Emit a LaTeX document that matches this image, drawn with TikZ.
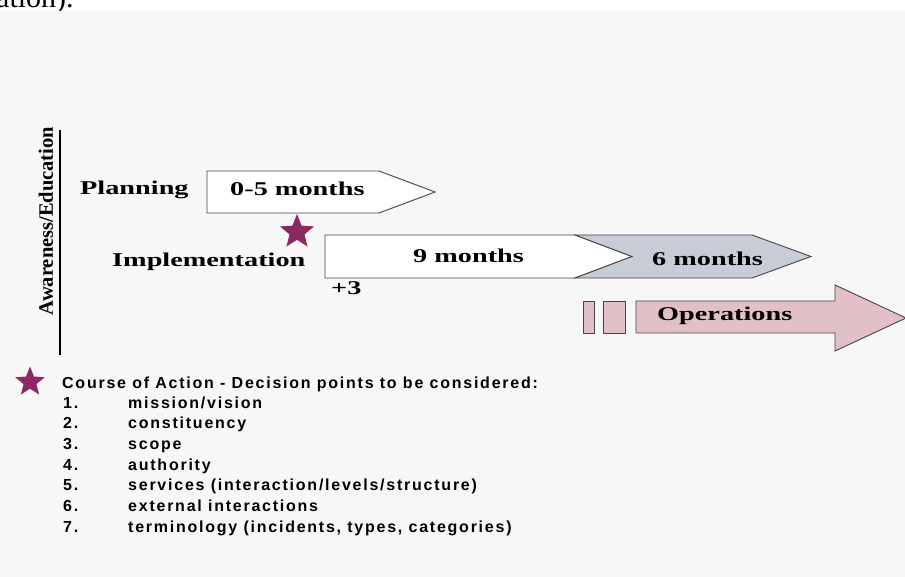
\documentclass[tikz,border=0pt]{standalone}
\usepackage{fontspec}
\setmainfont{Liberation Serif}
\setsansfont{Liberation Sans}
\newfontfamily\phasefont[FakeStretch=1.45]{Liberation Serif}
\newfontfamily\notefont[LetterSpace=11]{Liberation Sans}
\usepackage{tikz}
\usetikzlibrary{positioning, shapes.geometric}
\definecolor{paper}{RGB}{247,247,247}
\definecolor{starpurple}{RGB}{140,40,100}
\definecolor{chevgrey}{RGB}{200,204,214}
\definecolor{opspink}{RGB}{226,192,200}
\definecolor{edgegrey}{RGB}{70,70,70}

\begin{document}
\begin{tikzpicture}[
  x=1pt, y=-1pt,
  phase/.style={font=\phasefont\bfseries\fontsize{19.5}{20}\selectfont, inner sep=0pt, anchor=base west},
  bar/.style={draw=edgegrey, line width=0.9pt, line join=miter},
  note/.style={font=\notefont\bfseries\fontsize{16}{17}\selectfont, inner sep=0pt, anchor=base west},
  decision/.style={star, star points=5, star point ratio=2.3, fill=starpurple, draw=none, inner sep=0pt}
]
  \useasboundingbox (0,0) rectangle (905,577);
  \fill[white] (0,0) rectangle (905,11);
  \fill[paper] (0,11) rectangle (905,577);
  % left over from the page above
  \begin{scope}
    \clip (0,0) rectangle (905,11);
    \node[font=\fontsize{30}{30}\selectfont, inner sep=0pt, anchor=base west] (prev) at (-4,8) {ation).};
  \end{scope}

  % axis
  \node[font=\bfseries\fontsize{20.5}{20}\selectfont, rotate=90, inner sep=0pt] (aware) at (46,221) {Awareness/Education};
  \draw[line width=1.2pt] (60,130) -- (60,355);

  % planning
  \draw[bar, fill=white] (207,171) -- (379,171) -- (435,192) -- (379,213) -- (207,213) -- cycle;
  \node[phase] (plan) at (80,195) {Planning};
  \node[phase] (plantime) at (230,196) {0-5 months};

  % implementation
  \node[decision, minimum size=36pt] (star1) at (297,232) {};
  \draw[bar, fill=white] (325,235) -- (575,235) -- (632,256.5) -- (575,278) -- (325,278) -- cycle;
  \draw[bar, fill=chevgrey] (575,235) -- (752,235) -- (811,256.5) -- (752,278) -- (575,278) -- (632,256.5) -- cycle;
  \node[phase] (impl) at (112,267) {Implementation};
  \node[phase] (nine) at (413,263) {9 months};
  \node[phase] (six) at (652,266) {6 months};
  \node[phase] (plus) at (331,295) {+3};

  % operations
  \draw[bar, fill=opspink] (583,301) rectangle (594,333);
  \draw[bar, fill=opspink] (603,301) rectangle (625,333);
  \draw[bar, fill=opspink] (636,301) -- (835,301) -- (835,285) -- (906,318) -- (835,351) -- (835,333) -- (636,333) -- cycle;
  \node[phase] (ops) at (657,320) {Operations};

  % legend
  \node[decision, minimum size=31pt] (star2) at (30,382) {};
  \node[note] (coa) at (62,388) {Course of Action - Decision points to be considered:};
  \foreach \txt [count=\i] in {mission/vision, constituency, scope, authority,
      services (interaction/levels/structure), external interactions,
      {terminology (incidents, types, categories)}} {
    \node[note] (num\i) at (63,{408+(\i-1)*20.7}) {\i.};
    \node[note] (item\i) at (128,{408+(\i-1)*20.7}) {\txt};
  }
\end{tikzpicture}
\end{document}
